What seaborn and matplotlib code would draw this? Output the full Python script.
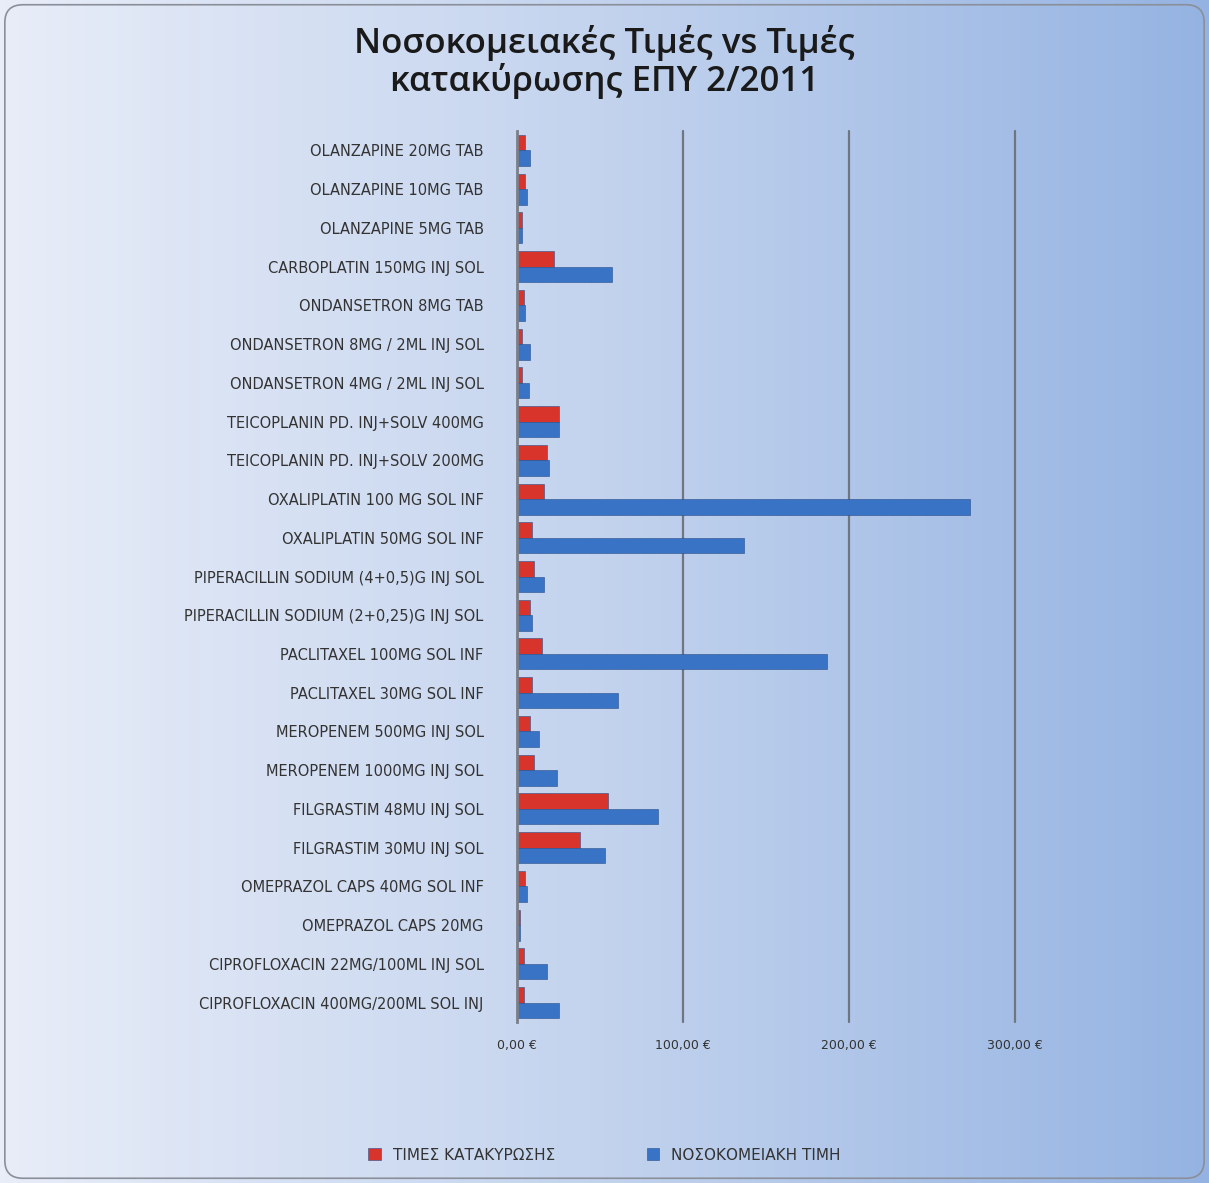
import numpy as np
import pandas as pd
import seaborn as sns
import matplotlib.pyplot as plt
from matplotlib.patches import FancyBboxPatch
from matplotlib.colors import LinearSegmentedColormap
from matplotlib.ticker import FuncFormatter

products = [
    "OLANZAPINE 20MG TAB",
    "OLANZAPINE 10MG TAB",
    "OLANZAPINE 5MG TAB",
    "CARBOPLATIN 150MG INJ SOL",
    "ONDANSETRON 8MG TAB",
    "ONDANSETRON 8MG / 2ML INJ SOL",
    "ONDANSETRON 4MG / 2ML INJ SOL",
    "TEICOPLANIN PD. INJ+SOLV 400MG",
    "TEICOPLANIN PD. INJ+SOLV 200MG",
    "OXALIPLATIN 100 MG SOL INF",
    "OXALIPLATIN 50MG SOL INF",
    "PIPERACILLIN SODIUM (4+0,5)G INJ SOL",
    "PIPERACILLIN SODIUM (2+0,25)G INJ SOL",
    "PACLITAXEL 100MG SOL INF",
    "PACLITAXEL 30MG SOL INF",
    "MEROPENEM 500MG INJ SOL",
    "MEROPENEM 1000MG INJ SOL",
    "FILGRASTIM 48MU INJ SOL",
    "FILGRASTIM 30MU INJ SOL",
    "OMEPRAZOL CAPS 40MG SOL INF",
    "OMEPRAZOL CAPS 20MG",
    "CIPROFLOXACIN 22MG/100ML INJ SOL",
    "CIPROFLOXACIN 400MG/200ML SOL INJ",
]

# τιμές κατακύρωσης (red) and νοσοκομειακή τιμή (blue), in euro
award_price = [5, 5, 3, 22, 4, 3, 3, 25, 18, 16, 9, 10, 8, 15, 9, 8, 10, 55, 38, 5, 2, 4, 4]
hospital_price = [8, 6, 3, 57, 5, 8, 7, 25, 19, 273, 137, 16, 9, 187, 61, 13, 24, 85, 53, 6, 2, 18, 25]

series_names = ["ΤΙΜΕΣ ΚΑΤΑΚΥΡΩΣΗΣ", "ΝΟΣΟΚΟΜΕΙΑΚΗ ΤΙΜΗ"]
x_ticks = [0, 100, 200, 300]

df = pd.DataFrame({
    "product": products * 2,
    "price": award_price + hospital_price,
    "series": [series_names[0]] * len(products) + [series_names[1]] * len(products),
})

sns.set_theme(style="white")
plt.rcParams['font.family'] = ['DejaVu Sans']

fig = plt.figure(figsize=(12.09, 11.83), dpi=100)

# gradient background like the office chart area
bg = fig.add_axes([0, 0, 1, 1], zorder=-10)
grad = np.linspace(0, 1, 256).reshape(1, -1)
cmap = LinearSegmentedColormap.from_list("bg", ["#e8edf8", "#c3d3ee", "#95b3e2"])
bg.imshow(grad, aspect="auto", cmap=cmap, extent=[0, 1, 0, 1])
bg.set_axis_off()
frame = FancyBboxPatch((0.004, 0.004), 0.992, 0.992, boxstyle="round,pad=0,rounding_size=0.015",
                       transform=fig.transFigure, fill=False, edgecolor="#8a8f99", linewidth=1.2)
fig.patches.append(frame)

W, H = 1209, 1183
left, right, top, bottom = 517, 1015, 131, 1022
ax = fig.add_axes([left / W, 1 - bottom / H, (right - left) / W, (bottom - top) / H])
ax.patch.set_alpha(0)

sns.barplot(data=df, y="product", x="price", hue="series", orient="h",
            palette=["#d8342c", "#3873c6"], saturation=1, width=0.8, ax=ax,
            edgecolor="#2a4f8a", linewidth=0.4)

ax.set_xlim(0, 300)
ax.set_xticks(x_ticks)
ax.xaxis.set_major_formatter(FuncFormatter(lambda v, p: f"{v:.2f} €".replace(".", ",")))
for xv in x_ticks[1:]:
    ax.axvline(xv, color="#6e7680", linewidth=1.6, zorder=0, clip_on=False)
ax.set_xlabel("")
ax.set_ylabel("")
for s in ["top", "right", "bottom"]:
    ax.spines[s].set_visible(False)
ax.spines["left"].set_color("#7a7f88")
ax.spines["left"].set_linewidth(2)
ax.tick_params(axis="y", labelsize=10.5, labelcolor="#333333", length=0, pad=24)
ax.tick_params(axis="x", labelsize=9, labelcolor="#333333", length=0, pad=12)
ax.legend_.remove()

handles, labels = ax.get_legend_handles_labels()
fig.legend(handles, labels, loc="center", bbox_to_anchor=(0.5, 1 - 1155 / H), ncol=2,
           frameon=False, fontsize=11, handlelength=0.8, handleheight=0.8,
           columnspacing=6, labelcolor="#333333")

fig.text(0.5, 1 - 62 / H, "Νοσοκομειακές Τιμές vs Τιμές\nκατακύρωσης ΕΠΥ 2/2011",
         ha="center", va="center", fontsize=25, color="#1a1a1a", weight="semibold",
         family=["Open Sans", "DejaVu Sans"], linespacing=1.05)

fig.savefig("out.png", dpi=100)
